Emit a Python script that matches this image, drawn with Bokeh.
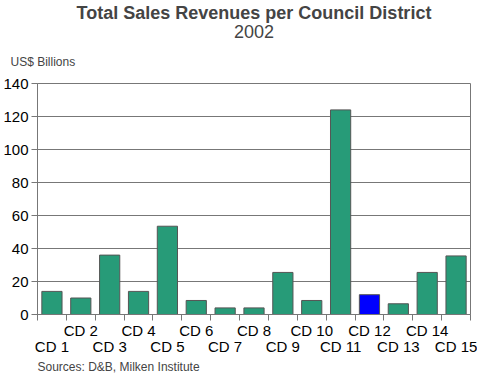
from bokeh.plotting import figure
from bokeh.models import Range1d, FixedTicker, Title, ColumnDataSource
from bokeh.embed import file_html
from bokeh.resources import INLINE

districts = ["CD 1", "CD 2", "CD 3", "CD 4", "CD 5", "CD 6", "CD 7", "CD 8",
             "CD 9", "CD 10", "CD 11", "CD 12", "CD 13", "CD 14", "CD 15"]
revenues = [14, 10, 36, 14, 53.5, 8.5, 4, 4, 25.5, 8.5, 124, 12, 6.5, 25.5, 35.5]
highlight = "CD 12"
y_ticks = [0, 20, 40, 60, 80, 100, 120, 140]

GREEN = "#279B78"
BLUE = "#0000FF"
FONT = "Liberation Sans"

xs = list(range(1, len(districts) + 1))
colors = [BLUE if d == highlight else GREEN for d in districts]
src = ColumnDataSource(dict(x=xs, top=revenues, color=colors))

p = figure(width=477, height=373, title=None, output_backend="svg",
           toolbar_location=None, x_range=Range1d(0.5, len(districts) + 0.5),
           y_range=Range1d(0, 140), min_border_left=0, min_border_right=7,
           min_border_top=0, min_border_bottom=0)

p.vbar(x="x", top="top", width=0.7, bottom=0, fill_color="color",
       line_color="#555555", line_width=1, source=src)

# y axis
p.yaxis.ticker = FixedTicker(ticks=y_ticks)
p.yaxis.major_label_text_font = FONT
p.yaxis.major_label_text_font_size = "15px"
p.yaxis.major_label_text_color = "black"
p.yaxis.major_tick_in = 0
p.yaxis.major_tick_out = 6
p.yaxis.minor_tick_line_color = None
p.yaxis.axis_line_color = "#777777"
p.yaxis.major_tick_line_color = "#777777"
p.yaxis.major_label_standoff = 3

p.ygrid.ticker = FixedTicker(ticks=y_ticks)
p.ygrid.grid_line_color = "#777777"
p.xgrid.grid_line_color = None
p.outline_line_color = "#777777"

# x axis: labels in two rows, tick marks between categories
half_ticks = [i + 0.5 for i in range(0, len(districts) + 1)]
labels = {x: (districts[x - 1] if x % 2 == 0 else "\n" + districts[x - 1])
          for x in xs}
p.xaxis.ticker = FixedTicker(ticks=xs, minor_ticks=half_ticks)
p.xaxis.major_label_overrides = labels
p.xaxis.major_label_text_font = FONT
p.xaxis.major_label_text_font_size = "15px"
p.xaxis.major_label_text_color = "black"
p.xaxis.major_label_text_line_height = 0.95
p.xaxis.major_label_standoff = 1
p.xaxis.major_tick_line_color = None
p.xaxis.major_tick_in = 0
p.xaxis.major_tick_out = 6
p.xaxis.minor_tick_in = 0
p.xaxis.minor_tick_out = 6
p.xaxis.minor_tick_line_color = "#777777"
p.xaxis.axis_line_color = "#777777"

p.add_layout(Title(text="Sources: D&B, Milken Institute", align="left",
                   text_font=FONT, text_font_size="12px",
                   text_font_style="normal", standoff=0), "below")

p.add_layout(Title(text="US$ Billions", align="left", offset=-27,
                   text_font=FONT, text_font_size="12px",
                   text_font_style="normal", standoff=30), "above")
p.add_layout(Title(text="2002", align="center", text_font=FONT,
                   text_font_size="18px", text_font_style="normal",
                   standoff=0), "above")
p.add_layout(Title(text="Total Sales Revenues per Council District",
                   align="center", text_font=FONT, text_font_size="18px",
                   text_font_style="bold", standoff=0), "above")

open("out.html", "w").write(file_html(p, INLINE))
